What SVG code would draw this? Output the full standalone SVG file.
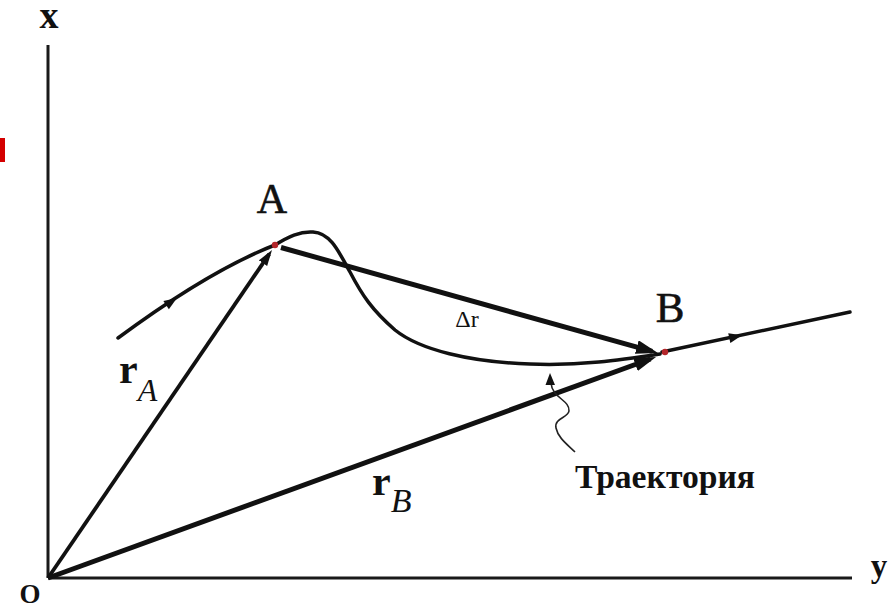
<svg xmlns="http://www.w3.org/2000/svg" width="890" height="610" viewBox="0 0 890 610">
<style>
.ser{font-family:"Liberation Serif","Times New Roman",serif;fill:#111}
.b{font-weight:bold}
.i{font-style:italic}
.pl{stroke:#111;stroke-width:0.6}
.ax{stroke:#1a1a1a;stroke-width:3;fill:none}
.vec{stroke:#111;fill:none;stroke-linecap:butt}
.traj{stroke:#111;stroke-width:3.5;fill:none;stroke-linecap:round}
.ah{fill:#111}
.pt{fill:#b3262a}
</style>
<defs>
<marker id="big" markerUnits="userSpaceOnUse" markerWidth="24" markerHeight="16" refX="16" refY="7" orient="auto">
<path d="M0,0 L22,7 L0,14 z" fill="#111"/>
</marker>
<marker id="med" markerUnits="userSpaceOnUse" markerWidth="18" markerHeight="12" refX="11" refY="5" orient="auto">
<path d="M0,0 L16,5 L0,10 z" fill="#111"/>
</marker>
</defs>
<rect width="890" height="610" fill="#ffffff"/>
<rect x="0" y="138" width="5" height="24" fill="#d40000"/>

<g id="axes">
<line class="ax" x1="48" y1="45" x2="48" y2="578"/>
<line class="ax" x1="48" y1="578" x2="852" y2="578"/>
</g>

<g id="connectors">
<path id="trajectory-in" class="traj" d="M118 338 Q210 270 275 245"/>
<path id="trajectory-mid" class="traj" d="M275 245 C288 237 300 231 313 232 C330 233 338 250 350 272 C362 295 372 310 395 330 C420 350 470 362 530 364 C580 366 620 360 660 354"/>
<path id="trajectory-out" class="traj" d="M662 352 L850 312"/>
<polygon class="ah" points="0,0 -13,-5 -13,5" transform="translate(177,298) rotate(-33.3)"/>
<polygon class="ah" points="0,0 -13,-5 -13,5" transform="translate(742,335.3) rotate(-12.2)"/>
<line id="rA" class="vec" stroke-width="3.8" x1="48" y1="578" x2="269.2" y2="254.1" marker-end="url(#med)"/>
<line id="rB" class="vec" stroke-width="5" x1="48" y1="578" x2="650.4" y2="359" marker-end="url(#big)"/>
<line id="dr" class="vec" stroke-width="5" x1="281" y1="247.5" x2="652.2" y2="351.4" marker-end="url(#big)"/>
<path id="pointer" d="M551 383 C552 398 570 400 569 411 C568 418 554 418 556 428 C558 438 568 445 575 452" stroke="#222" stroke-width="1.6" fill="none"/>
<polygon class="ah" points="550,373 545.5,385 555,385"/>
</g>

<g id="point-A">
<circle class="pt" cx="275" cy="245" r="3.2"/>
<text class="ser pl" x="272" y="213" font-size="42" text-anchor="middle">A</text>
</g>
<g id="point-B">
<circle class="pt" cx="665" cy="352" r="3.2"/>
<text class="ser pl" x="670" y="322" font-size="43" text-anchor="middle">B</text>
</g>
<g id="label-x"><text class="ser b" x="49" y="28" font-size="38" text-anchor="middle">x</text></g>
<g id="label-y"><text class="ser b" x="879" y="577" font-size="33" text-anchor="middle">y</text></g>
<g id="label-O"><text class="ser b" x="30" y="603" font-size="27" text-anchor="middle">O</text></g>
<g id="label-dr"><text class="ser" x="467" y="327" font-size="24" text-anchor="middle">Δr</text></g>
<g id="label-rA"><text class="ser" x="119" y="383"><tspan class="b" font-size="42">r</tspan><tspan class="i" font-size="32" dy="18">A</tspan></text></g>
<g id="label-rB"><text class="ser" x="372" y="495"><tspan class="b" font-size="42">r</tspan><tspan class="i" font-size="34" dy="17">B</tspan></text></g>
<g id="label-traj"><text class="ser b" x="575" y="488" font-size="33" textLength="180" lengthAdjust="spacingAndGlyphs">Траектория</text></g>
</svg>
